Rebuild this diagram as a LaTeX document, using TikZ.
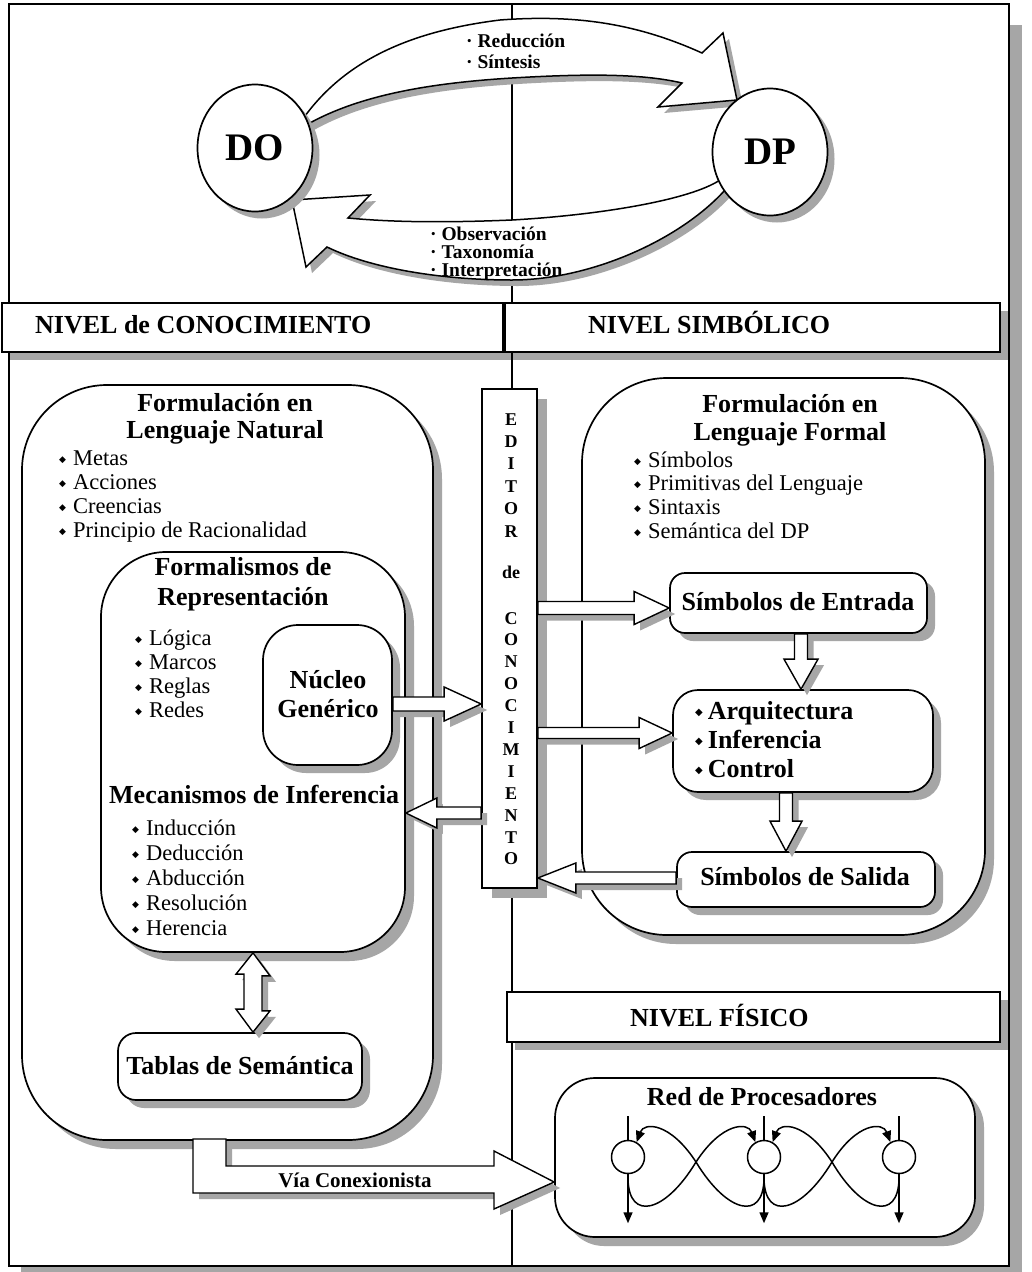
\documentclass[tikz,border=0pt]{standalone}
\usepackage{fontspec}
\setmainfont{Liberation Serif}
\newfontfamily\symfont{DejaVu Sans}
\usetikzlibrary{calc,shadows,arrows.meta,shapes.geometric}

% small diamond bullets
\newcommand\dia{{\symfont\fontsize{9}{9}\selectfont\raisebox{2.2pt}{◆}}\hspace{7pt}}
\newcommand\diab{{\symfont\fontsize{10}{10}\selectfont\raisebox{3.5pt}{◆}}\hspace{5pt}}

% horizontal block arrow: base, tip, shaft half height, head half height, head length (signed)
\newcommand\hblock[5]{%
  \draw[blockarrow] let \p1=#1, \p2=#2 in
    (\x1,{\y2+#3}) -- ({\x2-#5},{\y2+#3}) -- ({\x2-#5},{\y2+#4}) -- (\x2,\y2)
    -- ({\x2-#5},{\y2-#4}) -- ({\x2-#5},{\y2-#3}) -- (\x1,{\y2-#3}) -- cycle;}
% downward block arrow: base, tip, shaft half width, head half width, head length
\newcommand\vblock[5]{%
  \draw[blockarrow] let \p1=#1, \p2=#2 in
    ({\x2-#3},\y1) -- ({\x2-#3},{\y2+#5}) -- ({\x2-#4},{\y2+#5}) -- (\x2,\y2)
    -- ({\x2+#4},{\y2+#5}) -- ({\x2+#3},{\y2+#5}) -- ({\x2+#3},\y1) -- cycle;}

\begin{document}
\begin{tikzpicture}[x=1pt,y=-1pt,
  sh/.style={drop shadow={shadow xshift=#1, shadow yshift=-#1, fill=black!35, opacity=1}},
  sh/.default=9pt,
  rbox/.style={draw, line width=1.7pt, fill=white, rectangle, inner sep=0pt, rounded corners=#1},
  sbox/.style={draw, line width=1.7pt, fill=white, rectangle, inner sep=0pt},
  hdr/.style={sbox, line width=1.8pt, minimum height=49pt, sh=8pt},
  blockarrow/.style={draw, line width=1.4pt, fill=white, line join=miter, sh=6pt},
  bigtxt/.style={inner sep=0pt, anchor=base, font=\fontsize{26}{30}\selectfont\bfseries},
  item/.style={inner sep=0pt, anchor=base west, font=\fontsize{22.5}{24}\selectfont},
  lbl/.style={inner sep=0pt, anchor=base west, font=\fontsize{19.5}{22}\selectfont\bfseries},
  edl/.style={inner sep=0pt, anchor=base, font=\fontsize{18}{20}\selectfont\bfseries},
  proc/.style={circle, draw, line width=1.5pt, fill=white, minimum size=33pt, inner sep=0pt},
  net/.style={line width=1.5pt, -{Triangle[length=11pt,width=9pt]}},
  dom/.style={ellipse, draw, line width=1.7pt, fill=white, minimum width=115pt, minimum height=127pt,
    inner sep=0pt, sh=7pt, font=\fontsize{39}{40}\selectfont\bfseries},
]
\useasboundingbox (0,0) rectangle (1031,1272);

% outer frame with its shadow
\fill[black!35] (21,25) rectangle (1022,1272);
\fill[white] (9,4) rectangle (1009,1266);
\draw[line width=2.4pt] (9,4) rectangle (1009,1266);
\draw[line width=1.4pt] (512,4) -- (512,1266);

% level headers
\node[hdr, minimum width=501pt] (hk) at (252.5,327.5) {};
\node[hdr, minimum width=495pt] (hs) at (752.5,327.5) {};
\node[hdr, minimum width=493pt, minimum height=50pt] (hf) at (753.5,1017) {};
\node[bigtxt, anchor=base west] (hkt) at (35,333) {NIVEL de CONOCIMIENTO};
\node[bigtxt, anchor=base west] (hst) at (588,333) {NIVEL SIMBÓLICO};
\node[bigtxt, anchor=base west] (hft) at (630,1026) {NIVEL FÍSICO};

% knowledge cycle between DO and DP
\draw[blockarrow, line width=1.5pt] (305,116) .. controls (350,55) and (420,30) .. (500,20)
  .. controls (580,14) and (640,25) .. (702,53) -- (723,33) -- (737,100) -- (658,107) -- (682,83)
  .. controls (640,73) and (580,74) .. (512,78) .. controls (430,83) and (360,95) .. (308,124) -- cycle;
\draw[blockarrow, line width=1.5pt] (720,180) .. controls (690,200) and (600,215) .. (512,220)
  .. controls (440,223) and (390,222) .. (348,218) -- (370,195) -- (292,200) -- (306,267) -- (327,247)
  .. controls (370,268) and (440,280) .. (512,280) .. controls (590,280) and (680,240) .. (725,190) -- cycle;
\node[dom] (do) at (255,148) {DO};
\node[dom] (dp) at (770,152) {DP};
\node[lbl] (l1) at (466,47) {· Reducción};
\node[lbl] (l2) at (466,68) {· Síntesis};
\node[lbl] (l3) at (430,240) {· Observación};
\node[lbl] (l4) at (430,258) {· Taxonomía};
\node[lbl] (l5) at (430,276) {· Interpretación};

% knowledge level boxes
\node[rbox=85pt, sh, minimum width=411pt, minimum height=755pt] (ln) at (227.5,762.5) {};
\node[rbox=65pt, sh, minimum width=304pt, minimum height=400pt] (fr) at (253,752) {};
\node[rbox=35pt, sh=8pt, minimum width=129pt, minimum height=140pt] (nuc) at (327.5,695) {};
\node[rbox=18pt, sh=8pt, minimum width=244pt, minimum height=67pt] (ts) at (240,1066.5) {};

% symbolic level boxes
\node[rbox=85pt, sh, minimum width=403pt, minimum height=557pt] (lf) at (783.5,656.5) {};
\node[rbox=15pt, sh=8pt, minimum width=257pt, minimum height=60pt] (se) at (798.5,603) {};
\node[rbox=25pt, sh=8pt, minimum width=260pt, minimum height=102pt] (ar) at (803,741) {};
\node[rbox=15pt, sh=8pt, minimum width=258pt, minimum height=55pt] (ss) at (806,879.5) {};

% physical level box
\node[rbox=40pt, sh, minimum width=420pt, minimum height=159pt] (rp) at (765,1157.5) {};

% knowledge editor column
\node[sbox, sh=10pt, minimum width=55pt, minimum height=499pt] (ed) at (509.5,638.5) {};
\foreach \l [count=\i from 0] in {E,D,I,T,O,R}
  \node[edl] at (511,{425+22.4*\i}) {\l};
\node[edl] (edde) at (511,578) {de};
\foreach \l [count=\i from 0] in {C,O,N,O,C,I,M,I,E,N,T,O}
  \node[edl] at (511,{624+21.9*\i}) {\l};

% texts of the knowledge level
\node[bigtxt] (t1) at (225,411) {Formulación en};
\node[bigtxt] (t2) at (225,438) {Lenguaje Natural};
\node[item] at (59,465) {\dia Metas};
\node[item] at (59,489) {\dia Acciones};
\node[item] at (59,513) {\dia Creencias};
\node[item] at (59,537) {\dia Principio de Racionalidad};
\node[bigtxt] (t3) at (243,575) {Formalismos de};
\node[bigtxt] (t4) at (243,605) {Representación};
\node[item] at (135,645) {\dia Lógica};
\node[item] at (135,669) {\dia Marcos};
\node[item] at (135,693) {\dia Reglas};
\node[item] at (135,717) {\dia Redes};
\node[bigtxt] (t5) at (328,688) {Núcleo};
\node[bigtxt] (t6) at (328,717) {Genérico};
\node[bigtxt, anchor=base west] (t7) at (109,803) {Mecanismos de Inferencia};
\node[item] at (132,835) {\dia Inducción};
\node[item] at (132,860) {\dia Deducción};
\node[item] at (132,885) {\dia Abducción};
\node[item] at (132,910) {\dia Resolución};
\node[item] at (132,935) {\dia Herencia};
\node[bigtxt] (t8) at (240,1074) {Tablas de Semántica};

% texts of the symbolic level
\node[bigtxt] (t9) at (790,412) {Formulación en};
\node[bigtxt] (t10) at (790,440) {Lenguaje Formal};
\node[item] at (634,467) {\dia Símbolos};
\node[item] at (634,490) {\dia Primitivas del Lenguaje};
\node[item] at (634,514) {\dia Sintaxis};
\node[item] at (634,538) {\dia Semántica del DP};
\node[bigtxt] (t11) at (798,610) {Símbolos de Entrada};
\node[bigtxt, anchor=base west] at (695,719) {\diab Arquitectura};
\node[bigtxt, anchor=base west] at (695,748) {\diab Inferencia};
\node[bigtxt, anchor=base west] at (695,777) {\diab Control};
\node[bigtxt] (t12) at (805,885) {Símbolos de Salida};
\node[bigtxt] (t13) at (762,1105) {Red de Procesadores};

% block arrows between boxes
\hblock{(nuc.east |- 0,704)}{(ed.west |- 0,704)}{7pt}{17pt}{37pt}
\hblock{(ed.west |- 0,813)}{(fr.east |- 0,813)}{6pt}{15pt}{(-31pt)}
\hblock{(ed.east |- 0,608)}{(se.west |- 0,608)}{6.5pt}{16.5pt}{35pt}
\hblock{(ed.east |- 0,733)}{(ar.west |- 0,733)}{5.5pt}{15.5pt}{33pt}
\hblock{(ss.west |- 0,878)}{(ed.east |- 0,878)}{6pt}{15pt}{(-38pt)}
\vblock{(801,0 |- se.south)}{(801,0 |- ar.north)}{6.5pt}{17pt}{30pt}
\vblock{(786,0 |- ar.south)}{(786,0 |- ss.north)}{6.5pt}{16pt}{30pt}
\draw[blockarrow] (fr.south) -- ++(17,23) -- ++(-8,0) -- ++(0,35) -- ++(8,0) -- (fr.south |- ts.north)
  -- ++(-17,-23) -- ++(8,0) -- ++(0,-35) -- ++(-8,0) -- cycle;
\draw[blockarrow] (193,1139) -- (226,1139) -- (226,1166) -- (494,1166) -- (494,1151)
  -- (rp.west |- 0,1182) -- (494,1209) -- (494,1193) -- (193,1193) -- cycle;
\node[inner sep=0pt, anchor=base, font=\fontsize{21}{24}\selectfont\bfseries] (via) at (355,1187) {Vía Conexionista};

% processor network
\node[proc] (n1) at (628,1157) {};
\node[proc] (n2) at (764,1157) {};
\node[proc] (n3) at (899,1157) {};
\foreach \n in {n1,n2,n3} {
  \draw[line width=1.5pt] (\n.north) -- ++(0,-24);
  \draw[net] (\n.south) -- ++(0,49);
}
\foreach \a/\b in {n1/n2, n2/n3} {
  \draw[net] ($(\a.south)+(0,5)$) .. controls ($(\a.south)+(1,47)$) and ($(\a.south)+(37,39)$)
    .. ($(\a.center)+(68,5)$) .. controls ($(\b.center)+(-42,-35)$) and ($(\b.center)+(-16,-35)$) .. (\b.120);
  \draw[net] ($(\b.south)+(0,5)$) .. controls ($(\b.south)+(-1,47)$) and ($(\b.south)+(-37,39)$)
    .. ($(\a.center)+(68,5)$) .. controls ($(\a.center)+(42,-35)$) and ($(\a.center)+(16,-35)$) .. (\a.60);
}
\end{tikzpicture}
\end{document}
